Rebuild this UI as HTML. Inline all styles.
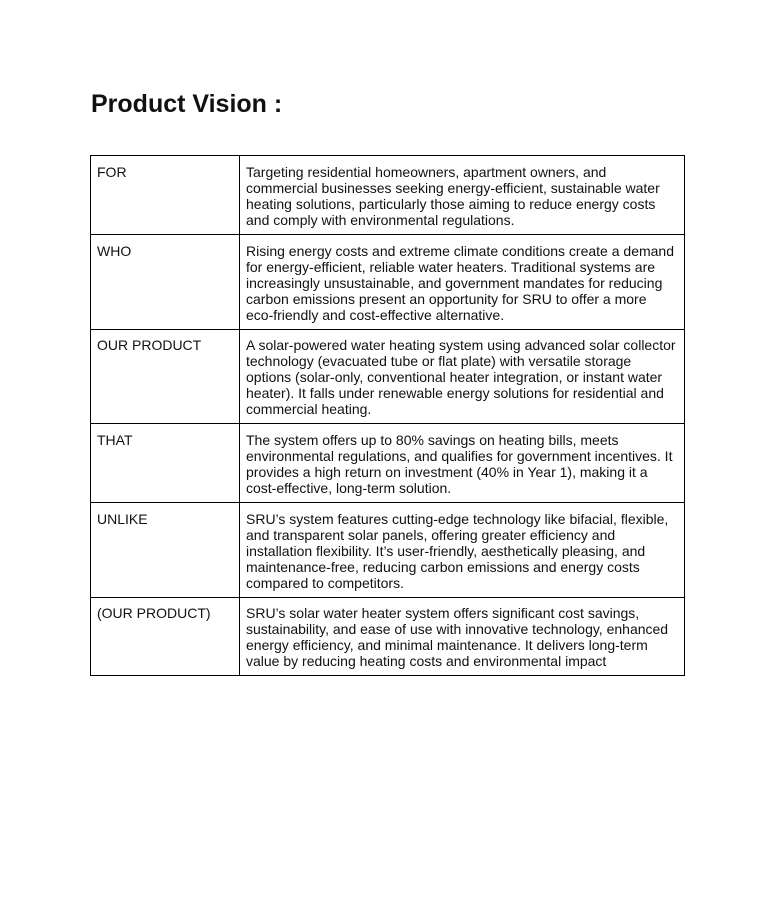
<!DOCTYPE html>
<html><head><meta charset="utf-8"><style>
body{margin:0;width:772px;height:922px;background:#fff;position:relative;font-family:"Liberation Sans",Arial,sans-serif;color:#111}
.t{position:absolute;left:91px;top:89px;font-size:25px;font-weight:bold;line-height:30px}
.h{position:absolute;left:90px;width:595px;height:1px;background:#000}
.v{position:absolute;width:1px;background:#000;top:155px;height:521px}
.c{position:absolute;font-size:14px;line-height:16px;white-space:nowrap}
.l{left:97px}.r{left:246px}
</style></head><body>
<div class="t">Product Vision :</div>
<div class="h" style="top:155px"></div>
<div class="h" style="top:234px"></div>
<div class="h" style="top:329px"></div>
<div class="h" style="top:423px"></div>
<div class="h" style="top:502px"></div>
<div class="h" style="top:597px"></div>
<div class="h" style="top:675px"></div>
<div class="v" style="left:90px"></div>
<div class="v" style="left:239px"></div>
<div class="v" style="left:684px"></div>

<div class="c l" style="top:164px">FOR</div>
<div class="c r" style="top:164px">Targeting residential homeowners, apartment owners, and<br>commercial businesses seeking energy-efficient, sustainable water<br>heating solutions, particularly those aiming to reduce energy costs<br>and comply with environmental regulations.</div>

<div class="c l" style="top:243px">WHO</div>
<div class="c r" style="top:243px">Rising energy costs and extreme climate conditions create a demand<br>for energy-efficient, reliable water heaters. Traditional systems are<br>increasingly unsustainable, and government mandates for reducing<br>carbon emissions present an opportunity for SRU to offer a more<br>eco-friendly and cost-effective alternative.</div>

<div class="c l" style="top:337px">OUR PRODUCT</div>
<div class="c r" style="top:337px">A solar-powered water heating system using advanced solar collector<br>technology (evacuated tube or flat plate) with versatile storage<br>options (solar-only, conventional heater integration, or instant water<br>heater). It falls under renewable energy solutions for residential and<br>commercial heating.</div>

<div class="c l" style="top:432px">THAT</div>
<div class="c r" style="top:432px">The system offers up to 80% savings on heating bills, meets<br>environmental regulations, and qualifies for government incentives. It<br>provides a high return on investment (40% in Year 1), making it a<br>cost-effective, long-term solution.</div>

<div class="c l" style="top:511px">UNLIKE</div>
<div class="c r" style="top:511px">SRU’s system features cutting-edge technology like bifacial, flexible,<br>and transparent solar panels, offering greater efficiency and<br>installation flexibility. It’s user-friendly, aesthetically pleasing, and<br>maintenance-free, reducing carbon emissions and energy costs<br>compared to competitors.</div>

<div class="c l" style="top:605px">(OUR PRODUCT)</div>
<div class="c r" style="top:605px">SRU’s solar water heater system offers significant cost savings,<br>sustainability, and ease of use with innovative technology, enhanced<br>energy efficiency, and minimal maintenance. It delivers long-term<br>value by reducing heating costs and environmental impact</div>
</body></html>
